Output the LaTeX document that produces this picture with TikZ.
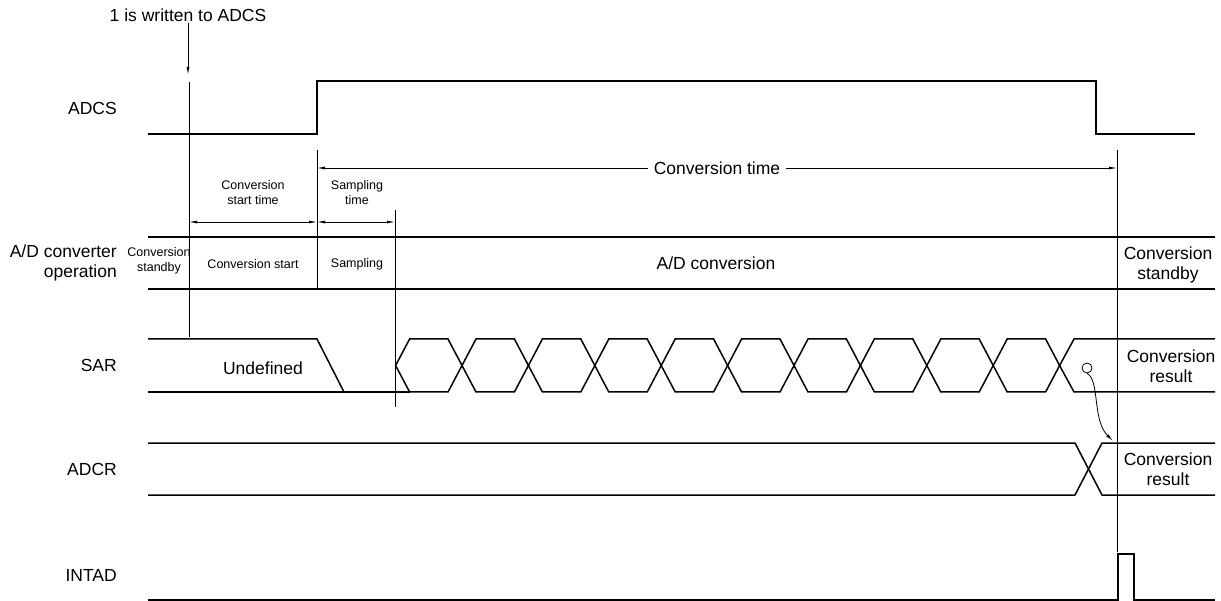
\documentclass[tikz,border=0pt]{standalone}
\usepackage{fontspec}
\setmainfont{Liberation Sans}
\usetikzlibrary{arrows.meta}
\tikzset{
  sig/.style={line width=1.5pt, line join=miter},
  guide/.style={line width=0.9pt},
  tip/.style={-{Latex[length=8pt,width=3pt]}},
  dimarrow/.style={line width=0.8pt, {Latex[length=8pt,width=3pt]}-{Latex[length=8pt,width=3pt]}},
  big/.style={font=\fontsize{17.5}{20}\selectfont, align=center, inner sep=1pt},
  small/.style={font=\fontsize{12.5}{15}\selectfont, align=center, inner sep=1pt},
  siglabel/.style={big, anchor=east, align=right}
}

\begin{document}
\begin{tikzpicture}[x=1pt, y=-1pt]
		\useasboundingbox (0,0) rectangle (1221,601);
		\def\per{66.4}
		\def\tx{462}

		% --- Signal names ---
		\node[siglabel] (lADCS) at (118,108) {ADCS};
		\node[siglabel] (lOP) at (118,263) {A/D converter\\operation};
		\node[siglabel] (lSAR) at (118,365) {SAR};
		\node[siglabel] (lADCR) at (118,469) {ADCR};
		\node[siglabel] (lINTAD) at (118,575) {INTAD};

		% --- Write annotation ---
		\node[big] (note) at (188,15) {1 is written to ADCS};
		\coordinate (wr) at (188,75);
		\draw[guide, tip] (note.south) -- (wr);

		% --- ADCS ---
		\draw[sig] (148,134) -- (317,134) -- (317,81) -- (1096,81) -- (1096,134) -- (1195,134);

		% --- Guide lines ---
		\draw[guide] (189,82) -- (189,337);
		\draw[guide] (317,150) -- (317,289);
		\draw[guide] (395,210) -- (395,407);
		\draw[guide] (1117,150) -- (1117,552);

		% --- Time spans ---
		\draw[dimarrow] (317,168) -- node[big, fill=white, inner xsep=6pt] (ctime) {Conversion time} (1117,168);
		\draw[dimarrow] (189,222) -- (317,222);
		\draw[dimarrow] (317,222) -- (395,222);
		\node[small] (tstart) at (253,193) {Conversion\\start time};
		\node[small] (tsamp) at (357,193) {Sampling\\time};

		% --- Converter operation ---
		\draw[sig] (148,237) -- (1215,237);
		\draw[sig] (148,289) -- (1215,289);
		\node[small] (opstb) at (159,261) {Conversion\\standby};
		\node[small] (opstart) at (253,264) {Conversion start};
		\node[small] (opsamp) at (357,264) {Sampling};
		\node[big] (opconv) at (716,263) {A/D conversion};
		\node[big] (opend) at (1168,265) {Conversion\\standby};

		% --- SAR ---
		\draw[sig] (148,339) -- (317,339) -- (344,392);
		\draw[sig] (148,392) -- (410,392);
		\node[big] (undef) at (263,368) {Undefined};
		\foreach \k in {-1,...,8} {
			\pgfmathsetmacro\ca{\tx+\per*\k}
			\pgfmathsetmacro\cb{\tx+\per*(\k+1)}
			\draw[sig] (\ca,365.5) -- (\ca+14,339) -- (\cb-14,339) -- (\cb,365.5)
				-- (\cb-14,392) -- (\ca+14,392) -- cycle;
		}
		\pgfmathsetmacro\cl{\tx+\per*9}
		\draw[sig] (1215,339) -- (1074,339) -- (\cl,365.5) -- (1074,392) -- (1215,392);
		\node[big] (sarres) at (1171,366) {Conversion\\result};

		% --- Transfer to ADCR ---
		\node[draw, circle, line width=0.8pt, minimum size=10pt, inner sep=0pt] (load) at (1087,368) {};
		\coordinate (dest) at (1113,441);
		\draw[line width=0.8pt, tip] (load.south) .. controls (1100,380) and (1092,420) .. (dest);

		% --- ADCR ---
		\draw[sig] (148,443) -- (1075,443) -- (1102,495) -- (1215,495);
		\draw[sig] (148,495) -- (1075,495) -- (1102,443) -- (1215,443);
		\node[big] (adcrres) at (1168,469) {Conversion\\result};

		% --- INTAD ---
		\draw[sig] (148,600) -- (1118,600) -- (1118,554) -- (1134,554) -- (1134,600) -- (1215,600);
	\end{tikzpicture}
\end{document}
